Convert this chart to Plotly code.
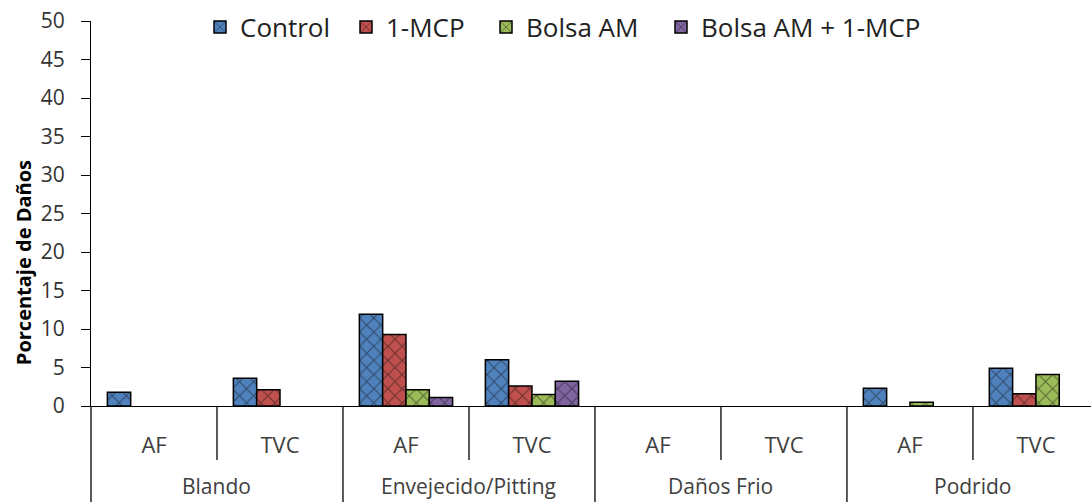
import plotly.graph_objects as go

# Categories
grupos = ["Blando", "Envejecido/Pitting", "Daños Frio", "Podrido"]
subcategorias = ["AF", "TVC"]

# Percentage of damage per treatment (one value per group/sub-category pair)
control = [1.8, 3.6, 11.9, 6.0, 0, 0, 2.3, 4.9]
mcp = [0, 2.1, 9.3, 2.6, 0, 0, 0, 1.6]
bolsa_am = [0, 0, 2.1, 1.5, 0, 0, 0.5, 4.1]
bolsa_am_mcp = [0, 0, 1.1, 3.2, 0, 0, 0, 0]

series = [
    ("Control", control, "#4F81BD"),
    ("1-MCP", mcp, "#C0504D"),
    ("Bolsa AM", bolsa_am, "#9BBB59"),
    ("Bolsa AM + 1-MCP", bolsa_am_mcp, "#8064A2"),
]

# left edge of each legend entry (paper fraction)
legend_x = [0.109, 0.255, 0.395, 0.570]

etiquetas = [s for g in grupos for s in subcategorias]
posiciones = list(range(len(etiquetas)))

FONT = "Open Sans"

fig = go.Figure()
for k, (nombre, valores, color) in enumerate(series):
    fig.add_trace(go.Bar(
        x=posiciones,
        # empty categories get no bar at all
        y=[v if v else None for v in valores],
        name=nombre,
        legend="legend" if k == 0 else f"legend{k + 1}",
        marker=dict(
            color=color,
            line=dict(color="#000000", width=1.5),
            pattern=dict(shape="x", fgcolor="#111111", size=10, solidity=0.2),
        ),
    ))

shapes = []
# vertical dividers below the axis: short between sub-categories, long between groups
for i in range(1, len(etiquetas) + 1):
    xb = i - 0.5
    largo = (i % len(subcategorias)) == 0
    shapes.append(dict(
        type="line", xref="x", yref="paper",
        x0=xb, x1=xb, y0=0, y1=-0.30 if largo else -0.14,
        line=dict(color="#000000", width=1.3),
    ))
# left border continuing the value axis down through the label area
shapes.append(dict(type="line", xref="paper", yref="paper", x0=0, x1=0, y0=0, y1=-0.30,
                   line=dict(color="#000000", width=1.3)))

annotations = []
for gi, g in enumerate(grupos):
    centro = gi * len(subcategorias) + (len(subcategorias) - 1) / 2
    annotations.append(dict(
        x=centro, y=-0.208, xref="x", yref="paper",
        text=g, showarrow=False, xanchor="center", yanchor="middle",
        font=dict(family=FONT, size=21, color="#404040"),
    ))
annotations.append(dict(
    x=-0.068, y=0.371, xref="paper", yref="paper",
    text="<b>Porcentaje de Daños</b>", textangle=-90, showarrow=False,
    xanchor="center", yanchor="middle",
    font=dict(family=FONT, size=20, color="#000000"),
))

leg_common = dict(
    orientation="h", xanchor="left", y=0.984, yanchor="middle",
    bgcolor="rgba(0,0,0,0)", font=dict(family=FONT, size=26, color="#222222"),
)
legends = {}
for k, lx in enumerate(legend_x):
    key = "legend" if k == 0 else f"legend{k + 1}"
    legends[key] = dict(leg_common, x=lx)

fig.update_layout(
    width=1091, height=502,
    margin=dict(l=91, r=0, t=21, b=96),
    paper_bgcolor="white", plot_bgcolor="white",
    barmode="group", bargap=0.26, bargroupgap=0,
    font=dict(family=FONT, color="#404040"),
    showlegend=True,
    shapes=shapes,
    annotations=annotations,
    xaxis=dict(
        range=[-0.5, 7.437], tickmode="array", tickvals=posiciones, ticktext=etiquetas,
        showline=True, linecolor="#000000", linewidth=1.3, showgrid=False, zeroline=False,
        ticks="", tickfont=dict(family=FONT, size=22, color="#404040"),
        ticklabelstandoff=19,
    ),
    yaxis=dict(
        range=[0, 50], dtick=5, ticks="outside", ticklen=9, tickwidth=1.3, tickcolor="#000000",
        showline=True, linecolor="#000000", linewidth=1.3, showgrid=False, zeroline=False,
        tickfont=dict(family=FONT, size=21, color="#333333"), ticklabelstandoff=12,
    ),
    **legends,
)

fig.write_html("out.html")
